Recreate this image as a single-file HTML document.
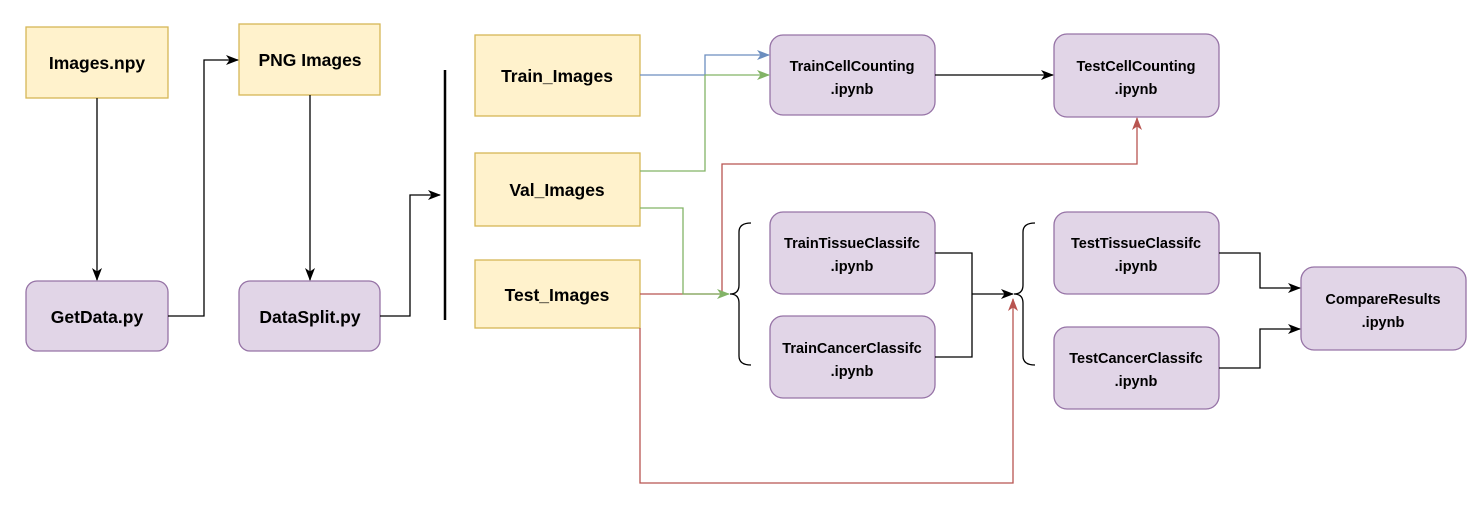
<!DOCTYPE html>
<html><head><style>
body{margin:0;background:#fff;width:1483px;height:513px;overflow:hidden}
svg text{font-family:"Liberation Sans",Arial,sans-serif;font-weight:bold;fill:#000;text-anchor:middle}
</style></head><body>
<svg width="1483" height="513" viewBox="0 0 1483 513" xmlns="http://www.w3.org/2000/svg">
<defs>
<marker id="ak" markerWidth="13" markerHeight="12" refX="12" refY="6" orient="auto" markerUnits="userSpaceOnUse"><path d="M0,1 L13,6 L0,11 L3.5,6 z" fill="#000"/></marker>
<marker id="ab" markerWidth="13" markerHeight="12" refX="12" refY="6" orient="auto" markerUnits="userSpaceOnUse"><path d="M0,1 L13,6 L0,11 L3.5,6 z" fill="#6c8ebf"/></marker>
<marker id="ag" markerWidth="13" markerHeight="12" refX="12" refY="6" orient="auto" markerUnits="userSpaceOnUse"><path d="M0,1 L13,6 L0,11 L3.5,6 z" fill="#82b366"/></marker>
<marker id="ar" markerWidth="13" markerHeight="12" refX="12" refY="6" orient="auto" markerUnits="userSpaceOnUse"><path d="M0,1 L13,6 L0,11 L3.5,6 z" fill="#b85450"/></marker>
</defs>
<g fill="#fff2cc" stroke="#d6b656" stroke-width="1.3">
<rect x="26" y="27" width="142" height="71"/>
<rect x="239" y="24" width="141" height="71"/>
<rect x="475" y="35" width="165" height="81"/>
<rect x="475" y="153" width="165" height="73"/>
<rect x="475" y="260" width="165" height="68"/>
</g>
<g fill="#e1d5e7" stroke="#9673a6" stroke-width="1.3">
<rect x="26" y="281" width="142" height="70" rx="11"/>
<rect x="239" y="281" width="141" height="70" rx="11"/>
<rect x="770" y="35" width="165" height="80" rx="13"/>
<rect x="1054" y="34" width="165" height="83" rx="13"/>
<rect x="770" y="212" width="165" height="82" rx="13"/>
<rect x="770" y="316" width="165" height="82" rx="13"/>
<rect x="1054" y="212" width="165" height="82" rx="13"/>
<rect x="1054" y="327" width="165" height="82" rx="13"/>
<rect x="1301" y="267" width="165" height="83" rx="13"/>
</g>
<g fill="none" stroke-width="1.3">
<path d="M97,98 V280" stroke="#000" marker-end="url(#ak)"/>
<path d="M168,316 H204 V60 H238" stroke="#000" marker-end="url(#ak)"/>
<path d="M310,95 V280" stroke="#000" marker-end="url(#ak)"/>
<path d="M380,316 H410 V195 H440" stroke="#000" marker-end="url(#ak)"/>
<path d="M445,70 V320" stroke="#000" stroke-width="2.5"/>
<path d="M640,75 H705 V55 H769" stroke="#6c8ebf" marker-end="url(#ab)"/>
<path d="M640,171 H705 V75 H769" stroke="#82b366" marker-end="url(#ag)"/>
<path d="M640,294 H722 V164 H1137 V118" stroke="#b85450" marker-end="url(#ar)"/>
<path d="M640,208 H683 V294 H729" stroke="#82b366" marker-end="url(#ag)"/>
<path d="M640,328 V483 H1013 V299" stroke="#b85450" marker-end="url(#ar)"/>
<path d="M935,75 H1053" stroke="#000" marker-end="url(#ak)"/>
<path d="M935,253 H972 V357 H935 M972,294 H1013" stroke="#000" marker-end="url(#ak)"/>
<path d="M1219,253 H1260 V288 H1300" stroke="#000" marker-end="url(#ak)"/>
<path d="M1219,368 H1260 V329 H1300" stroke="#000" marker-end="url(#ak)"/>
<path d="M751,223 Q739,223 739,232 V285 Q739,294 730,294 Q739,294 739,303 V356 Q739,365 751,365" stroke="#000"/>
<path d="M1035,223 Q1023,223 1023,232 V285 Q1023,294 1014,294 Q1023,294 1023,303 V356 Q1023,365 1035,365" stroke="#000"/>
</g>
<g font-size="17.5">
<text x="97" y="69">Images.npy</text>
<text x="310" y="66">PNG Images</text>
<text x="97" y="323">GetData.py</text>
<text x="310" y="323">DataSplit.py</text>
<text x="557" y="82">Train_Images</text>
<text x="557" y="196">Val_Images</text>
<text x="557" y="301">Test_Images</text>
</g>
<g font-size="14.5">
<text x="852" y="71">TrainCellCounting</text><text x="852" y="94">.ipynb</text>
<text x="1136" y="71">TestCellCounting</text><text x="1136" y="94">.ipynb</text>
<text x="852" y="248">TrainTissueClassifc</text><text x="852" y="271">.ipynb</text>
<text x="852" y="353">TrainCancerClassifc</text><text x="852" y="376">.ipynb</text>
<text x="1136" y="248">TestTissueClassifc</text><text x="1136" y="271">.ipynb</text>
<text x="1136" y="363">TestCancerClassifc</text><text x="1136" y="386">.ipynb</text>
<text x="1383" y="304">CompareResults</text><text x="1383" y="327">.ipynb</text>
</g>
</svg>
</body></html>
